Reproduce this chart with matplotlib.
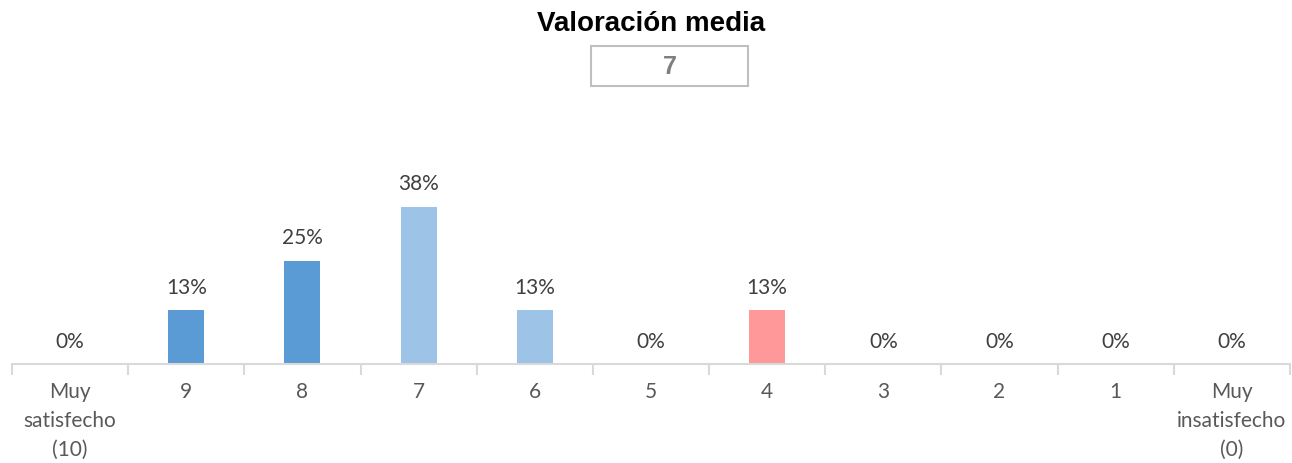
import matplotlib.pyplot as plt
import matplotlib.patches as patches
import numpy as np

# %% Data
categorias = ['Muy\nsatisfecho\n(10)', '9', '8', '7', '6', '5', '4', '3', '2', '1', 'Muy\ninsatisfecho\n(0)']
porcentajes = [0, 13, 25, 38, 13, 0, 13, 0, 0, 0, 0]
colores = ['#5B9BD5', '#5B9BD5', '#5B9BD5', '#9DC3E6', '#9DC3E6', '#9DC3E6',
           '#FF9999', '#FF9999', '#FF9999', '#FF9999', '#FF9999']
titulo = 'Valoración media'
media = '7'

plt.rcParams['font.family'] = ['Lato', 'DejaVu Sans']

# %% Figure
fig = plt.figure(figsize=(12.92, 4.63), dpi=100)
ax = fig.add_axes([12 / 1292, 99 / 463, 1278 / 1292, 244 / 463])

x = np.arange(len(categorias))
ax.bar(x, porcentajes, width=0.31, color=colores)

for xi, v in zip(x, porcentajes):
    ax.annotate(f'{v}%', (xi, v), xytext=(0, 9), textcoords='offset points',
                ha='center', va='bottom', fontsize=15, color='#404040')

ax.set_xlim(-0.5, len(categorias) - 0.5)
ax.set_ylim(0, 59)
ax.set_xticks(x)
ax.set_xticklabels(categorias, fontsize=15, color='#595959', linespacing=1.55)
ax.set_xticks(np.arange(-0.5, len(categorias)), minor=True)
ax.tick_params(axis='x', which='major', length=0, pad=13)
ax.tick_params(axis='x', which='minor', length=8, width=1.5, color='#D9D9D9')
ax.set_yticks([])
for s in ['top', 'left', 'right']:
    ax.spines[s].set_visible(False)
ax.spines['bottom'].set_color('#D9D9D9')
ax.spines['bottom'].set_linewidth(1.5)

# Title and mean box
fig.text(651 / 1292, 1 - 24 / 463, titulo, ha='center', va='center',
         fontsize=20, fontweight='bold', family=['Liberation Sans', 'DejaVu Sans'])
caja = patches.Rectangle((591 / 1292, 377 / 463), 157 / 1292, 40 / 463,
                         transform=fig.transFigure, fill=False,
                         edgecolor='#BFBFBF', linewidth=1.5)
fig.add_artist(caja)
fig.text(670 / 1292, 1 - 67 / 463, media, ha='center', va='center',
         fontsize=18, fontweight='bold', color='#7F7F7F',
         family=['Liberation Sans', 'DejaVu Sans'])

fig.savefig('out.png', dpi=100)
